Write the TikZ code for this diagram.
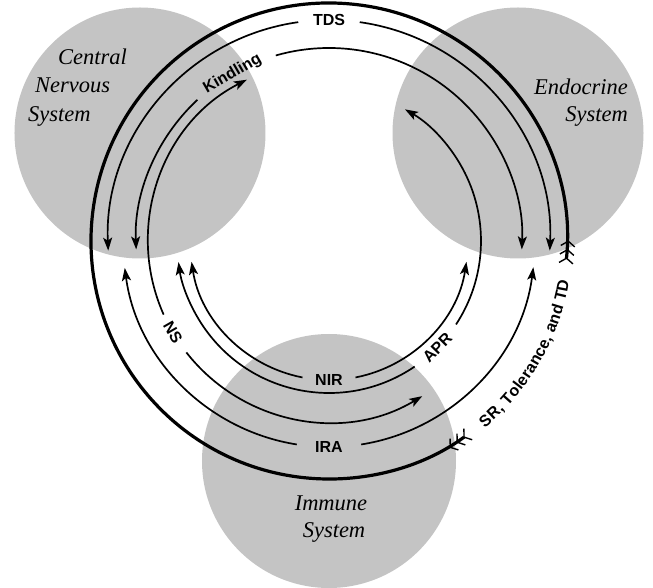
\documentclass[tikz,border=0pt]{standalone}
\usepackage{fontspec}
\setmainfont{Liberation Serif}
\setsansfont{Liberation Sans}
\usetikzlibrary{arrows.meta,decorations.text}

\begin{document}
\begin{tikzpicture}[
  x=1pt, y=1pt,
  organ/.style={circle, fill=black!23, minimum size=251pt, inner sep=0pt},
  sysname/.style={font=\fontsize{22.5}{26}\selectfont\itshape, inner sep=0pt},
  lbl/.style={font=\sffamily\bfseries\fontsize{16}{16}\selectfont, inner sep=0pt},
  ring/.style={line width=1.7pt},
  outer/.style={line width=3.2pt},
  tip/.style={-{Stealth[length=13pt, width=9pt, inset=3pt]}},
  fletch/.tip={Straight Barb[reversed, length=5pt, width=14pt, line width=1.4pt, sep=2pt]},
  feather/.style={arrows={fletch[]fletch[]fletch[]-fletch[]fletch[]fletch[]}}
]
\path[use as bounding box, fill=white] (-329,-347) rectangle (324,241);

\node[organ] (cns) at (-189,108) {};
\node[organ] (endo) at (189,108) {};
\node[organ, minimum size=254pt] (imm) at (0,-220) {};

\node[sysname, anchor=base west] (cnsa) at (-271,176) {Central};
\node[sysname, anchor=base west] (cnsb) at (-294,148) {Nervous};
\node[sysname, anchor=base west] (cnsc) at (-301,119) {System};
\node[sysname, anchor=base east] (endoa) at (299,146) {Endocrine};
\node[sysname, anchor=base east] (endob) at (299,119) {System};
\node[sysname, anchor=base] (imma) at (2,-269) {Immune};
\node[sysname, anchor=base] (immb) at (5,-296) {System};

\node[lbl] (tds) at (90:221) {TDS};
\node[lbl, rotate=30] (kindling) at (120:193) {Kindling};
\node[lbl, rotate=-60] (ns) at (210.5:181) {NS};
\node[lbl, rotate=45.5] (apr) at (-44.5:152) {APR};
\node[lbl] (nir) at (270:139) {NIR};
\node[lbl] (ira) at (270:206) {IRA};

\draw[ring,tip] (82:221) arc[start angle=82, end angle=-2.5, radius=221pt];
\draw[ring,tip] (98:221) arc[start angle=98, end angle=182.5, radius=221pt];
\draw[ring,tip] (106:193) arc[start angle=106, end angle=-2.5, radius=193pt];
\draw[ring,tip] (133:193) arc[start angle=133, end angle=182.5, radius=193pt];
\draw[ring,tip] (204:181) arc[start angle=204, end angle=117, radius=181pt];
\draw[ring,tip] (218:181) arc[start angle=218, end angle=301, radius=181pt];
\draw[ring,tip] (261:206) arc[start angle=261, end angle=187.5, radius=206pt];
\draw[ring,tip] (279:206) arc[start angle=279, end angle=352.7, radius=206pt];
\draw[ring,tip] (304.3:152) arc[start angle=304.3, end angle=188, radius=152pt];
\draw[ring,tip] (326.7:152) arc[start angle=326.7, end angle=420, radius=152pt];
\draw[ring,tip] (259:139) arc[start angle=259, end angle=188.6, radius=139pt];
\draw[ring,tip] (281:139) arc[start angle=281, end angle=351.4, radius=139pt];

\draw[outer,feather] (-6:238) arc[start angle=-6, end angle=306.4, radius=238pt];
\path[decorate, decoration={text along path, text align=center, raise=-5.5pt,
  text={|\sffamily\bfseries\fontsize{16}{16}\selectfont|SR, Tolerance, and TD}}]
  (-53.6:238) arc[start angle=-53.6, end angle=-6, radius=238pt];
\end{tikzpicture}
\end{document}
